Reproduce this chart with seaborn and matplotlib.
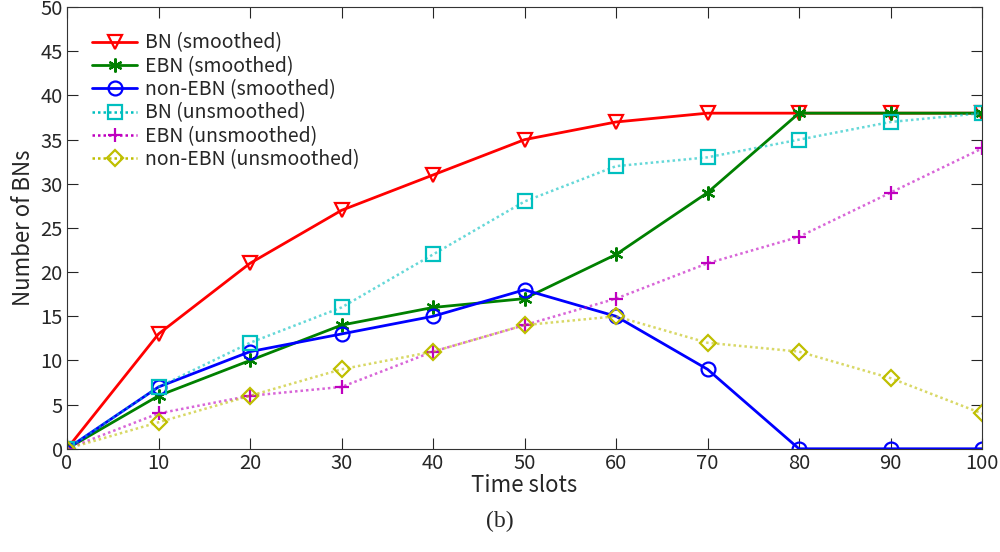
import numpy as np
import pandas as pd
import seaborn as sns
import matplotlib
matplotlib.use("Agg")
import matplotlib.pyplot as plt

time_slots = [0, 10, 20, 30, 40, 50, 60, 70, 80, 90, 100]

bn_smoothed = [0, 13, 21, 27, 31, 35, 37, 38, 38, 38, 38]
ebn_smoothed = [0, 6, 10, 14, 16, 17, 22, 29, 38, 38, 38]
nonebn_smoothed = [0, 7, 11, 13, 15, 18, 15, 9, 0, 0, 0]
bn_unsmoothed = [0, 7, 12, 16, 22, 28, 32, 33, 35, 37, 38]
ebn_unsmoothed = [0, 4, 6, 7, 11, 14, 17, 21, 24, 29, 34]
nonebn_unsmoothed = [0, 3, 6, 9, 11, 14, 15, 12, 11, 8, 4]

dot = (0, (1, 1.2))
series = [
    ("BN (smoothed)", bn_smoothed, "#ff0000", "-", "v", 1.0),
    ("EBN (smoothed)", ebn_smoothed, "#008000", "-", (6, 2, 0), 1.0),
    ("non-EBN (smoothed)", nonebn_smoothed, "#0000ff", "-", "o", 1.0),
    ("BN (unsmoothed)", bn_unsmoothed, "#00bfbf", dot, "s", 0.6),
    ("EBN (unsmoothed)", ebn_unsmoothed, "#bf00bf", dot, "+", 0.6),
    ("non-EBN (unsmoothed)", nonebn_unsmoothed, "#bfbf00", dot, "D", 0.6),
]

sns.set_style("ticks")
plt.rcParams["font.family"] = ["Noto Sans CJK JP", "DejaVu Sans"]

fig, ax = plt.subplots(figsize=(10, 5.52), dpi=100)
fig.subplots_adjust(left=0.067, right=0.982, top=0.987, bottom=0.187)

for name, vals, color, ls, marker, line_alpha in series:
    df = pd.DataFrame({"t": time_slots, "v": vals})
    lw = 2 if ls == "-" else 1.8
    # line drawn lighter for the unsmoothed ones, markers full colour
    sns.lineplot(data=df, x="t", y="v", ax=ax, color=color, linestyle=ls,
                 linewidth=lw, alpha=line_alpha, legend=False)
    ms = 10 if marker != "D" else 8
    ax.plot(time_slots, vals, linestyle="none", marker=marker, markersize=ms,
            markerfacecolor="none", markeredgecolor=color, markeredgewidth=1.6)
    ax.plot([], [], color=color, linestyle=ls, linewidth=lw, marker=marker,
            markersize=ms, markerfacecolor="none", markeredgecolor=color,
            markeredgewidth=1.6, label=name)

ax.set_xlim(0, 100)
ax.set_ylim(0, 50)
ax.set_xticks(np.arange(0, 101, 10))
ax.set_yticks(np.arange(0, 51, 5))
ax.tick_params(direction="in", top=True, right=True, labelsize=14.5, length=8,
               pad=3)
for sp in ax.spines.values():
    sp.set_visible(True)
    sp.set_color("#333333")
ax.set_xlabel("Time slots", fontsize=16, labelpad=0)
ax.set_ylabel("Number of BNs", fontsize=16, labelpad=4)

ax.legend(loc="upper left", frameon=False, fontsize=14, handlelength=2.3,
          borderaxespad=0.6, labelspacing=0.12, handletextpad=0.4,
          borderpad=0.7)

fig.text(0.5, 0.045, "(b)", ha="center", fontsize=17, family="Liberation Serif")

fig.savefig("out.png", dpi=100)
